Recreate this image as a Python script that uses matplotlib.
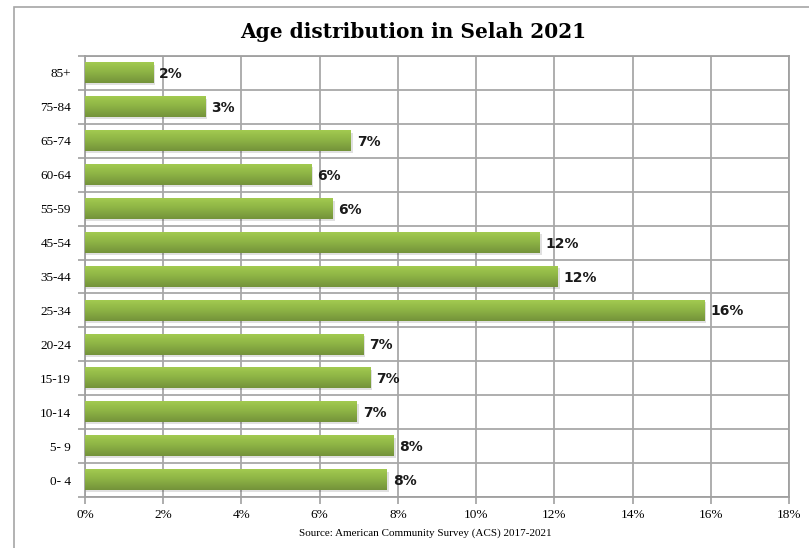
import numpy as np
import matplotlib.pyplot as plt
from matplotlib.patches import Rectangle
from matplotlib.colors import LinearSegmentedColormap

# age groups from bottom to top, share of population (%)
ages = ['0- 4', '5- 9', '10-14', '15-19', '20-24', '25-34', '35-44',
        '45-54', '55-59', '60-64', '65-74', '75-84', '85+']
shares = [7.72, 7.88, 6.95, 7.29, 7.11, 15.83, 12.09, 11.63, 6.32, 5.78, 6.80, 3.07, 1.74]
labels = ['8%', '8%', '7%', '7%', '7%', '16%', '12%', '12%', '6%', '6%', '7%', '3%', '2%']
xticks = [0, 2, 4, 6, 8, 10, 12, 14, 16, 18]

fig = plt.figure(figsize=(8.09, 5.48), dpi=100)
ax = fig.add_axes([85/809, 1 - 497/548, (789-85)/809, (497-56)/548])

# outer chart frame
fig.patches.append(Rectangle((14/809, -0.1), 1.2, 1.1 - 7/548, transform=fig.transFigure,
                             fill=False, edgecolor='#a6a6a6', linewidth=1.2))

grad = LinearSegmentedColormap.from_list('g', ['#74933a', '#8cb244', '#a2ca50'])
h = 0.6
y = np.arange(len(ages))
for yi, v, lab in zip(y, shares, labels):
    # soft shadow
    ax.add_patch(Rectangle((0, yi - h/2 - 0.06), v + 0.06, h, facecolor='#000000',
                           alpha=0.12, linewidth=0, zorder=2))
    ax.imshow(np.linspace(0, 1, 50).reshape(-1, 1), cmap=grad, aspect='auto',
              extent=(0, v, yi - h/2, yi + h/2), origin='lower', zorder=3)
    ax.text(v + 0.15, yi - 0.03, lab, va='center', ha='left', fontsize=10,
            fontweight='bold', family='DejaVu Sans', color='#1a1a1a', zorder=4)

ax.set_xlim(0, 18)
ax.set_ylim(-0.5, len(ages) - 0.5)
ax.set_xticks(xticks)
ax.set_xticklabels([f'{t}%' for t in xticks], family='Liberation Serif', fontsize=9.5)
ax.set_yticks(y)
ax.set_yticklabels(ages, family='Liberation Serif', fontsize=9.5)
ax.set_yticks(np.arange(-0.5, len(ages), 1), minor=True)
ax.tick_params(axis='y', which='major', length=0, pad=10)
ax.tick_params(axis='y', which='minor', length=5, color='#a0a0a0', width=1.2)
ax.tick_params(axis='x', length=5, color='#a0a0a0', width=1.2, pad=4)

ax.grid(True, axis='x', which='major', color='#a8a8a8', linewidth=1.3, zorder=0)
ax.grid(True, axis='y', which='minor', color='#a8a8a8', linewidth=1.3, zorder=0)
ax.set_axisbelow(True)
for s in ax.spines.values():
    s.set_color('#a0a0a0')
    s.set_linewidth(1.3)

fig.text(413/809, 1 - 32/548, 'Age distribution in Selah 2021', ha='center', va='center',
         fontsize=14.5, fontweight='bold', family='DejaVu Serif')
fig.text(425/809, 1 - 533/548, 'Source: American Community Survey (ACS) 2017-2021',
         ha='center', va='center', fontsize=8, family='Liberation Serif')

fig.savefig('out.png', dpi=100)
